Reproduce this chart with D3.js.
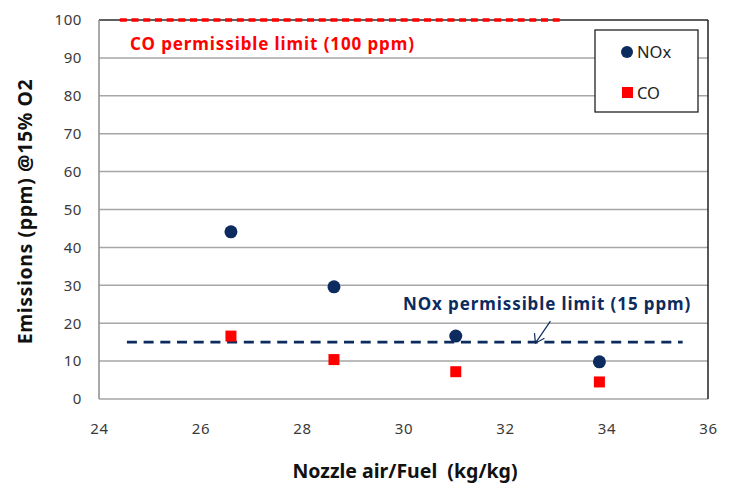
<!DOCTYPE html>
<html>
<head>
<meta charset="utf-8">
<script src="https://cdn.jsdelivr.net/npm/d3@7"></script>
<style>
  body { margin: 0; background: #fff; }
  text { font-family: "Noto Sans", "Open Sans", sans-serif; }
</style>
</head>
<body>
<div id="chart"></div>
<script>
// data
var airFuel = [26.6, 28.63, 31.03, 33.86];
var noxValues = [44.1, 29.6, 16.6, 9.8];
var coValues = [16.6, 10.4, 7.2, 4.5];
var xTicks = [24, 26, 28, 30, 32, 34, 36];
var yTicks = [0, 10, 20, 30, 40, 50, 60, 70, 80, 90, 100];
var noxLimit = 15, noxLimitRange = [24.55, 35.5];
var coLimit = 100, coLimitRange = [24.41, 33.14];

var svgWidth = 739, svgHeight = 496;
var margin = {left: 99, top: 20, right: 31, bottom: 97};
var width = svgWidth - margin.left - margin.right,
    height = svgHeight - margin.top - margin.bottom;

var navy = "#0c2b5e", red = "#ff0000";

var svg = d3.select("#chart").append("svg")
    .attr("width", svgWidth)
    .attr("height", svgHeight);

var x = d3.scaleLinear().domain([24, 36]).range([0, width]);
var y = d3.scaleLinear().domain([0, 100]).range([height, 0]);

var g = svg.append("g")
    .attr("transform", "translate(" + margin.left + "," + margin.top + ")");

// grid lines
g.selectAll(".grid")
    .data(yTicks)
    .enter().append("line")
    .attr("x1", 0).attr("x2", width)
    .attr("y1", function(d) { return y(d); })
    .attr("y2", function(d) { return y(d); })
    .attr("stroke", "#a6a6a6")
    .attr("stroke-width", 1.5);

// plot border: top and right dark, left gray
g.append("line").attr("x1", 0).attr("x2", width).attr("y1", 0).attr("y2", 0)
    .attr("stroke", "#404040").attr("stroke-width", 1.5);
g.append("line").attr("x1", width).attr("x2", width).attr("y1", 0).attr("y2", height)
    .attr("stroke", "#202020").attr("stroke-width", 1.5);
g.append("line").attr("x1", 0).attr("x2", 0).attr("y1", 0).attr("y2", height)
    .attr("stroke", "#8c8c8c").attr("stroke-width", 1.5);

// axes (labels only)
var yAxis = g.append("g")
    .call(d3.axisLeft(y).tickValues(yTicks).tickSize(0).tickPadding(17));
var xAxis = g.append("g")
    .attr("transform", "translate(0," + height + ")")
    .call(d3.axisBottom(x).tickValues(xTicks).tickSize(0).tickPadding(24));
[yAxis, xAxis].forEach(function(a) {
    a.select(".domain").remove();
    a.selectAll("text")
        .attr("fill", "#3a3a3a")
        .style("font-size", "15px")
        .style("letter-spacing", "0.6px");
});

// limit lines
g.append("line")
    .attr("x1", x(coLimitRange[0])).attr("x2", x(coLimitRange[1]))
    .attr("y1", y(coLimit)).attr("y2", y(coLimit))
    .attr("stroke", red).attr("stroke-width", 3.5)
    .attr("stroke-dasharray", "7,4.7");
g.append("line")
    .attr("x1", x(noxLimitRange[0])).attr("x2", x(noxLimitRange[1]))
    .attr("y1", y(noxLimit)).attr("y2", y(noxLimit))
    .attr("stroke", navy).attr("stroke-width", 2.8)
    .attr("stroke-dasharray", "10,6.7");

// annotations
g.append("text")
    .attr("x", 31).attr("y", 30)
    .attr("fill", red)
    .style("font-size", "17px").style("font-weight", "bold")
    .style("letter-spacing", "0.9px")
    .text("CO permissible limit (100 ppm)");
g.append("text")
    .attr("x", 304).attr("y", 290)
    .attr("fill", navy)
    .style("font-size", "17px").style("font-weight", "bold")
    .style("letter-spacing", "0.9px")
    .text("NOx permissible limit (15 ppm)");

// arrow pointing at the NOx line
var arrowTip = [x(32.6), y(noxLimit) + 1];
g.append("line")
    .attr("x1", arrowTip[0] + 15).attr("y1", arrowTip[1] - 22)
    .attr("x2", arrowTip[0]).attr("y2", arrowTip[1])
    .attr("stroke", navy).attr("stroke-width", 1.2);
g.append("path")
    .attr("d", "M" + (arrowTip[0] - 1) + "," + (arrowTip[1] - 10) +
        " L" + arrowTip[0] + "," + arrowTip[1] +
        " L" + (arrowTip[0] + 9) + "," + (arrowTip[1] - 5))
    .attr("fill", "none").attr("stroke", navy).attr("stroke-width", 1.2);

// points
g.selectAll(".nox")
    .data(airFuel)
    .enter().append("circle")
    .attr("class", "nox")
    .attr("cx", function(d) { return x(d); })
    .attr("cy", function(d, i) { return y(noxValues[i]); })
    .attr("r", 6.5)
    .attr("fill", navy);

g.selectAll(".co")
    .data(airFuel)
    .enter().append("rect")
    .attr("class", "co")
    .attr("x", function(d) { return x(d) - 5.5; })
    .attr("y", function(d, i) { return y(coValues[i]) - 5.5; })
    .attr("width", 11).attr("height", 11)
    .attr("fill", red);

// legend
var legend = svg.append("g").attr("transform", "translate(595,30)");
legend.append("rect")
    .attr("width", 103).attr("height", 82)
    .attr("fill", "#fff").attr("stroke", "#222").attr("stroke-width", 1.3);
legend.append("circle").attr("cx", 32).attr("cy", 22).attr("r", 6).attr("fill", navy);
legend.append("text").attr("x", 42).attr("y", 28)
    .attr("fill", "#222").style("font-size", "16.5px").text("NOx");
legend.append("rect").attr("x", 27).attr("y", 57).attr("width", 11).attr("height", 11).attr("fill", red);
legend.append("text").attr("x", 42).attr("y", 69)
    .attr("fill", "#222").style("font-size", "16.5px").text("CO");

// axis titles
svg.append("text")
    .attr("transform", "translate(32," + (margin.top + height / 2 + 2) + ") rotate(-90)")
    .attr("text-anchor", "middle")
    .attr("fill", "#111")
    .style("font-size", "19.5px").style("font-weight", "bold")
    .style("letter-spacing", "0.6px")
    .text("Emissions (ppm) @15% O2");
svg.append("text")
    .attr("x", 405).attr("y", 478)
    .attr("text-anchor", "middle")
    .attr("fill", "#111")
    .style("font-size", "19.5px").style("font-weight", "bold")
    .text("Nozzle air/Fuel\u00a0 (kg/kg)");
</script>
</body>
</html>
